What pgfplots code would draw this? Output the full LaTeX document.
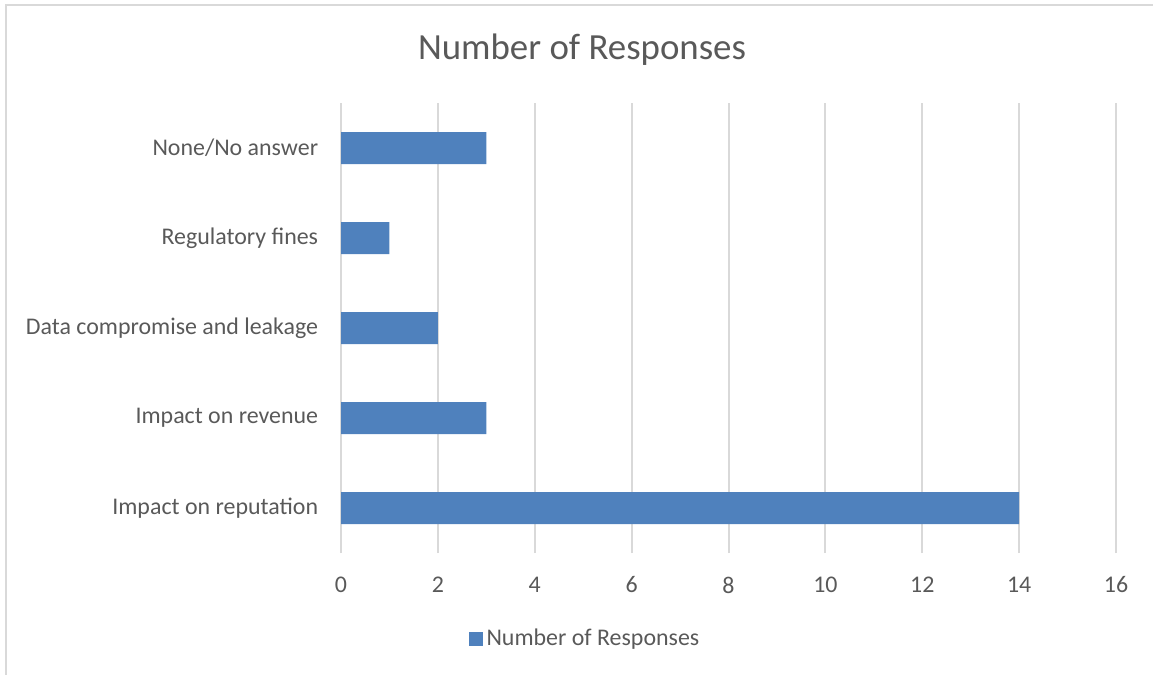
\documentclass[border=0pt]{standalone}
\usepackage{pgfplots}
\pgfplotsset{compat=1.18}
\usepackage{fontspec}
\setmainfont{Carlito}
\definecolor{barc}{HTML}{4F81BD}
\definecolor{txt}{HTML}{595959}
\definecolor{gridc}{HTML}{D9D9D9}
\begin{document}
\begin{tikzpicture}
\path[use as bounding box] (0bp,0bp) rectangle (576.5bp,-337.5bp);
\draw[gridc, line width=1bp] (3bp,-337.5bp) -- (3bp,-2.5bp) -- (576.5bp,-2.5bp);
\node[font=\fontsize{18.5}{22}\selectfont, text=txt] at (291bp,-25bp) {Number of Responses};
\begin{axis}[
  at={(170.5bp,-276.5bp)}, anchor=south west,
  scale only axis, width=387.5bp, height=225bp,
  xbar, bar width=16bp,
  xmin=0, xmax=16, ymin=-0.5, ymax=4.5,
  xtick={0,2,...,16}, ytick={0,1,2,3,4},
  yticklabels={Impact on reputation, Impact on revenue, Data compromise and leakage, Regulatory fines, None/No answer},
  xmajorgrids, grid style={gridc, line width=1bp},
  axis line style={draw=none}, major tick style={draw=none},
  /pgf/number format/assume math mode=true,
  ticklabel style={font=\fontsize{12}{14}\selectfont, text=txt, inner sep=0pt},
  xticklabel style={anchor=center, yshift=-16bp},
  yticklabel style={anchor=east, xshift=-7bp},
  legend style={at={(0.316,-0.19)}, anchor=center, draw=none, fill=none,
    font=\fontsize{12}{14}\selectfont, text=txt, nodes={inner sep=1.6bp}},
  legend image code/.code={\fill[barc] (-0.5bp,-3.5bp) rectangle (6.5bp,3.5bp);},
]
\addplot[fill=barc, draw=none] coordinates {(14,0) (3,1) (2,2) (1,3) (3,4)};
\addlegendentry{Number of Responses}
\end{axis}
\end{tikzpicture}
\end{document}
